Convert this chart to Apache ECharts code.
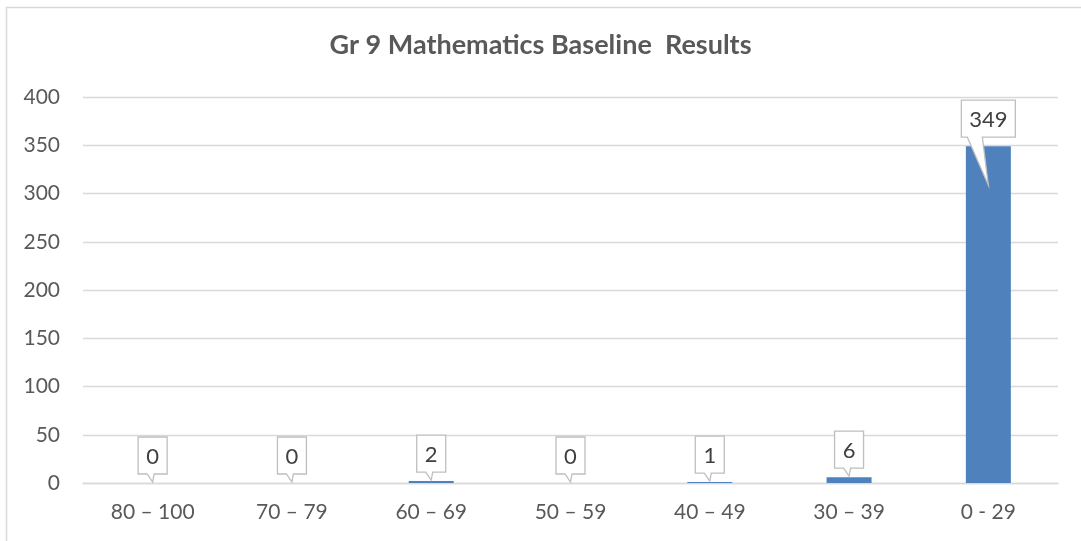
<!DOCTYPE html>
<html>
<head>
<meta charset="utf-8">
<script src="https://cdn.jsdelivr.net/npm/echarts@6/dist/echarts.min.js"></script>
<style>html,body{margin:0;padding:0;background:#fff}#chart{width:1081px;height:541px}</style>
</head>
<body>
<div id="chart"></div>
<script>
var titleText = 'Gr 9 Mathematics Baseline  Results';
var categories = ['80 \u2013 100', '70 \u2013 79', '60 \u2013 69', '50 \u2013 59', '40 \u2013 49', '30 \u2013 39', '0 - 29'];
var values = [0, 0, 2, 0, 1, 6, 349];
var yMin = 0, yMax = 400, yStep = 50;

var FONT = 'Lato';
var chart = echarts.init(document.getElementById('chart'), null, {renderer: 'canvas'});

function renderCallout(params, api) {
  var i = api.value(0), v = api.value(1);
  var p = api.coord([i, v]);
  var cx = p[0], top = p[1];
  var txt = String(v);
  var n = txt.length;
  var w = 16.5 + 12.5 * n;
  var h = 37;
  var last = (i === values.length - 1);
  var tipY = last ? top + 39 : top - 1;
  var bottom = top - 9;
  var yTop = bottom - h;
  var x0 = cx - w / 2, x1 = cx + w / 2;
  var bl, br;
  if (last) { bl = cx - 21; br = cx - 6; } else { bl = cx - 5.5; br = cx + 1.5; }
  var pts = [[x0, yTop], [x1, yTop], [x1, bottom], [br, bottom], [cx, tipY], [bl, bottom], [x0, bottom]];
  return {
    type: 'group',
    children: [
      {type: 'polygon', shape: {points: pts}, style: {fill: '#ffffff', stroke: '#bfbfbf', lineWidth: 1.3}},
      {type: 'text', x: cx, y: yTop + h / 2 + 1, style: {text: txt, fill: '#404040', font: '22px ' + FONT, align: 'center', verticalAlign: 'middle'}}
    ]
  };
}

var option = {
  backgroundColor: '#ffffff',
  animation: false,
  title: {
    text: titleText,
    left: 'center',
    top: 27,
    textStyle: {fontFamily: FONT, fontWeight: 'bold', fontSize: 27, color: '#595959'}
  },
  graphic: [{
    type: 'rect', silent: true, z: -10,
    shape: {x: 6.5, y: 7.5, width: 1200, height: 700},
    style: {fill: 'none', stroke: '#d9d9d9', lineWidth: 1.5}
  }],
  grid: {left: 83, right: 23, top: 97, bottom: 58, containLabel: false},
  xAxis: {
    type: 'category',
    data: categories,
    axisTick: {show: false},
    axisLine: {lineStyle: {color: '#d9d9d9', width: 1.3}},
    axisLabel: {color: '#595959', fontFamily: FONT, fontSize: 21, margin: 19}
  },
  yAxis: {
    type: 'value',
    min: yMin, max: yMax, interval: yStep,
    axisLine: {show: false},
    axisTick: {show: false},
    splitLine: {lineStyle: {color: '#d9d9d9', width: 1.3}},
    axisLabel: {color: '#595959', fontFamily: FONT, fontSize: 21, margin: 23}
  },
  series: [
    {
      type: 'bar',
      data: values,
      barWidth: 45,
      itemStyle: {color: '#4f81bd'},
      z: 2
    },
    {
      type: 'custom',
      data: values.map(function (v, i) { return [i, v]; }),
      renderItem: renderCallout,
      z: 5,
      silent: true
    }
  ]
};
chart.setOption(option);
</script>
</body>
</html>
